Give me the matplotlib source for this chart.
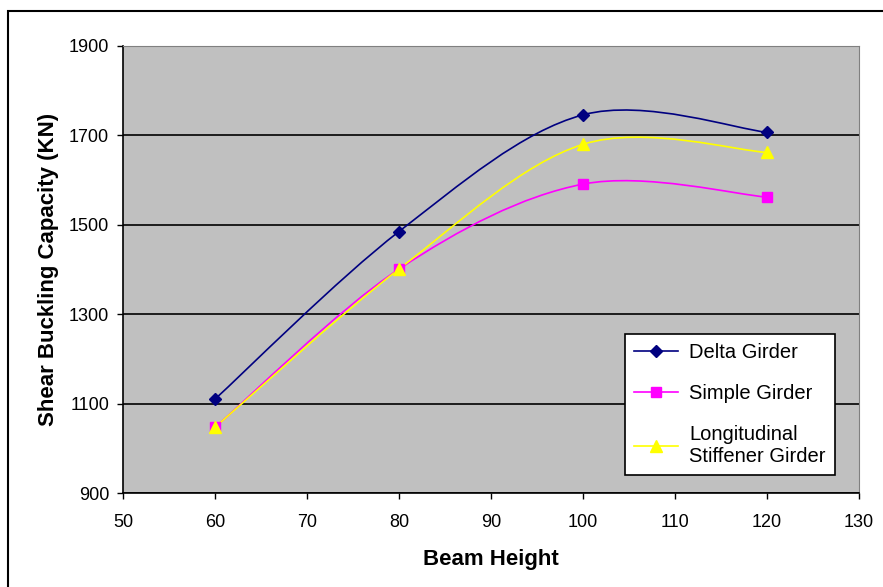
import numpy as np
import matplotlib
matplotlib.use("Agg")
import matplotlib.pyplot as plt
from matplotlib.path import Path
from matplotlib.patches import PathPatch, Rectangle
from matplotlib.lines import Line2D

# ── Data ──────────────────────────────────────────────────────────────────────
beam_height   = [60, 80, 100, 120]
delta_girder  = [1110, 1485, 1746, 1707]
simple_girder = [1047, 1401, 1591, 1562]
long_girder   = [1047, 1401, 1680, 1662]

plt.rcParams["font.family"] = ["Liberation Sans", "DejaVu Sans"]

GREY = "#C0C0C0"


def smooth_path(xs, ys):
    """Excel-style smoothed line: cubic Bezier through each point."""
    pts = np.column_stack([xs, ys]).astype(float)
    ext = np.vstack([pts[0], pts, pts[-1]])
    verts = [tuple(pts[0])]
    codes = [Path.MOVETO]
    for i in range(len(pts) - 1):
        p0, p1, p2, p3 = ext[i], ext[i + 1], ext[i + 2], ext[i + 3]
        c1 = p1 + (p2 - p0) / 6.0
        c2 = p2 - (p3 - p1) / 6.0
        verts += [tuple(c1), tuple(c2), tuple(p2)]
        codes += [Path.CURVE4] * 3
    return Path(verts, codes)


fig = plt.figure(figsize=(8.83, 5.87), dpi=100)
ax = fig.add_axes([123 / 883, 1 - 493 / 587, 736 / 883, 447 / 587])
ax.set_facecolor(GREY)

series = [
    ("Delta Girder", delta_girder, "#000080", "D", 6.5),
    ("Simple Girder", simple_girder, "#FF00FF", "s", 7),
    ("Longitudinal\nStiffener Girder", long_girder, "#FFFF00", "^", 8.5),
]

handles = []
for label, vals, col, mk, ms in series:
    ax.add_patch(PathPatch(smooth_path(beam_height, vals), fill=False,
                           edgecolor=col, linewidth=1.2, zorder=3))
    ax.plot(beam_height, vals, linestyle="none", marker=mk, markersize=ms,
            color=col, zorder=4)
    handles.append(Line2D([0], [0], color=col, marker=mk, markersize=ms,
                          linewidth=1.2, label=label))

ax.set_xlim(50, 130)
ax.set_ylim(900, 1900)
ax.set_xticks(range(50, 131, 10))
ax.set_yticks(range(900, 1901, 200))
ax.yaxis.grid(True, color="black", linewidth=1.2)
ax.set_axisbelow(True)
ax.tick_params(axis="both", direction="out", length=4, width=1,
               labelsize=13)
ax.tick_params(axis="x", pad=11)
ax.tick_params(axis="y", pad=6)

for side in ("top", "right"):
    ax.spines[side].set_color("#808080")
for side in ("left", "bottom"):
    ax.spines[side].set_color("black")
    ax.spines[side].set_linewidth(1.2)

ax.set_xlabel("Beam Height", fontsize=16, fontweight="bold", labelpad=13)
ax.set_ylabel("Shear Buckling Capacity (KN)", fontsize=16,
              fontweight="bold", labelpad=7)

leg = ax.legend(handles=handles, loc="lower left",
                bbox_to_anchor=(0.682, 0.04), borderaxespad=0,
                fontsize=14.5, frameon=True, fancybox=False, framealpha=1,
                edgecolor="black", handlelength=2.2, labelspacing=1.1,
                borderpad=0.45, handletextpad=0.55)
leg.get_frame().set_linewidth(1.2)

# outer chart border (only left/top visible in the crop)
fig.add_artist(Rectangle((8 / 883, -0.05), 1.1, 1 - 11 / 587 + 0.05,
                         transform=fig.transFigure, fill=False,
                         edgecolor="black", linewidth=1.5))

fig.savefig("out.png", dpi=100)
